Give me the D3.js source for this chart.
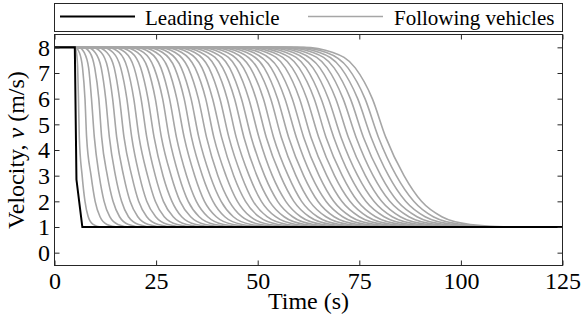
<!DOCTYPE html>
<html><head><meta charset="utf-8">
<script src="https://cdn.jsdelivr.net/npm/d3@7"></script>
<style>
html,body{margin:0;padding:0;background:#fff;}
</style></head>
<body><svg id="chart" width="582" height="322" style="display:block"></svg>
<script>
// ---------------- data ----------------
const simStart = 0, simEnd = 125;
const xTicks = [0, 25, 50, 75, 100, 125];
const yTicks = [0, 1, 2, 3, 4, 5, 6, 7, 8];
const legendLabels = ["Leading vehicle", "Following vehicles"];
const xLabel = "Time (s)";
const yLabelParts = ["Velocity, ", "v", " (m/s)"];

// leading vehicle profile
const leaderTime = [0, 5.0, 5.4, 6.85, 125];
const leaderVelocity = [8, 8, 2.85, 1, 1];

// following vehicles: time (s) at which each vehicle's velocity reaches each level
const velocityLevels = [8, 7.8, 7.2, 6, 4.5, 3, 2, 1.4, 1.1, 1];
const followerCrossTimes = [
  [5.05, 5.4, 5.7, 5.9, 6.1, 6.8, 7.5, 8.3, 9.5, 11.3],
  [5.1, 6.1, 6.9, 7.5, 7.9, 9.0, 10.0, 11.2, 12.9, 15.5],
  [6.0, 7.3, 8.4, 9.1, 9.8, 11.0, 12.2, 13.6, 15.6, 18.7],
  [7.0, 8.7, 9.9, 10.9, 11.6, 13.0, 14.4, 16.0, 18.2, 21.7],
  [8.1, 10.0, 11.5, 12.6, 13.5, 15.0, 16.5, 18.2, 20.7, 24.5],
  [9.3, 11.5, 13.1, 14.3, 15.3, 17.0, 18.6, 20.5, 23.1, 27.3],
  [10.5, 12.9, 14.7, 16.0, 17.1, 19.0, 20.7, 22.7, 25.5, 30.0],
  [11.8, 14.4, 16.3, 17.8, 19.0, 20.9, 22.7, 24.9, 27.9, 32.6],
  [13.1, 15.9, 17.9, 19.5, 20.8, 22.9, 24.8, 27.0, 30.2, 35.2],
  [14.4, 17.4, 19.6, 21.3, 22.7, 24.8, 26.8, 29.2, 32.5, 37.8],
  [15.7, 18.9, 21.2, 23.0, 24.5, 26.7, 28.9, 31.3, 34.8, 40.4],
  [17.1, 20.4, 22.9, 24.8, 26.3, 28.7, 30.9, 33.5, 37.1, 42.9],
  [18.4, 21.9, 24.5, 26.6, 28.2, 30.6, 32.9, 35.6, 39.4, 45.4],
  [19.8, 23.5, 26.2, 28.3, 30.0, 32.5, 34.9, 37.7, 41.6, 47.9],
  [21.2, 25.0, 27.9, 30.1, 31.9, 34.5, 36.9, 39.8, 43.9, 50.3],
  [22.6, 26.6, 29.6, 31.9, 33.7, 36.4, 39.0, 41.9, 46.1, 52.8],
  [24.0, 28.1, 31.2, 33.6, 35.5, 38.3, 41.0, 44.0, 48.3, 55.2],
  [25.4, 29.7, 32.9, 35.4, 37.4, 40.2, 43.0, 46.1, 50.6, 57.6],
  [26.9, 31.3, 34.6, 37.2, 39.2, 42.2, 45.0, 48.2, 52.8, 60.0],
  [28.3, 32.9, 36.3, 38.9, 41.1, 44.1, 47.0, 50.3, 55.0, 62.4],
  [29.7, 34.5, 38.0, 40.7, 42.9, 46.0, 48.9, 52.3, 57.2, 64.8],
  [31.2, 36.0, 39.7, 42.5, 44.7, 47.9, 50.9, 54.4, 59.4, 67.2],
  [32.6, 37.6, 41.4, 44.3, 46.6, 49.8, 52.9, 56.5, 61.6, 69.6],
  [34.1, 39.2, 43.1, 46.0, 48.4, 51.7, 54.9, 58.6, 63.7, 71.9],
  [35.6, 40.8, 44.8, 47.8, 50.3, 53.6, 56.9, 60.6, 65.9, 74.3],
  [37.0, 42.5, 46.5, 49.6, 52.1, 55.6, 58.9, 62.7, 68.1, 76.6],
  [38.5, 44.1, 48.2, 51.4, 53.9, 57.5, 60.8, 64.7, 70.2, 79.0],
  [40.0, 45.7, 49.9, 53.2, 55.8, 59.4, 62.8, 66.8, 72.4, 81.3],
  [41.5, 47.3, 51.6, 54.9, 57.6, 61.3, 64.8, 68.8, 74.6, 83.6],
  [43.0, 48.9, 53.3, 56.7, 59.5, 63.2, 66.8, 70.9, 76.7, 85.9],
  [44.5, 50.5, 55.0, 58.5, 61.3, 65.1, 68.7, 72.9, 78.9, 88.3],
  [46.0, 52.2, 56.8, 60.3, 63.1, 67.0, 70.7, 75.0, 81.0, 90.6],
  [47.5, 53.8, 58.5, 62.1, 65.0, 68.9, 72.7, 77.0, 83.1, 92.9],
  [49.0, 55.4, 60.2, 63.9, 66.8, 70.8, 74.6, 79.0, 85.3, 95.2],
  [50.5, 57.0, 61.9, 65.6, 68.7, 72.7, 76.6, 81.1, 87.4, 97.5],
  [52.0, 58.7, 63.6, 67.4, 70.5, 74.6, 78.6, 83.1, 89.6, 99.7],
  [53.6, 60.3, 65.3, 69.2, 72.3, 76.5, 80.5, 85.1, 91.7, 102.0],
  [55.1, 61.9, 67.1, 71.0, 74.2, 78.4, 82.5, 87.2, 93.8, 104.3],
  [56.6, 63.6, 68.8, 72.8, 76.0, 80.3, 84.4, 89.2, 95.9, 106.6],
  [58.1, 65.2, 70.5, 74.6, 77.9, 82.2, 86.4, 91.2, 98.1, 108.9],
  [59.7, 66.9, 72.2, 76.4, 79.7, 84.1, 88.4, 93.2, 100.2, 111.1],
  [61.2, 68.5, 74.0, 78.2, 81.5, 86.0, 90.3, 95.3, 102.3, 113.4]
];

// ---------------- drawing ----------------
const svg = d3.select("#chart");
const axisColor = "#262626";
const followerColor = "#a6a6a6";
const FONT = "Liberation Serif";
const plot = {left: 54.5, right: 562.5, top: 34.5, bottom: 265.5};

const x = d3.scaleLinear().domain([simStart, simEnd]).range([plot.left, plot.right]);
const y = d3.scaleLinear().domain([-0.5, 8.5]).range([plot.bottom, plot.top]);

svg.append("defs").append("clipPath").attr("id", "clip")
  .append("rect").attr("x", plot.left).attr("y", plot.top)
  .attr("width", plot.right - plot.left).attr("height", plot.bottom - plot.top);

const line = d3.line().x(d => x(d[0])).y(d => y(d[1])).curve(d3.curveMonotoneX);
const lineLinear = d3.line().x(d => x(d[0])).y(d => y(d[1]));

const dataG = svg.append("g").attr("clip-path", "url(#clip)");

followerCrossTimes.forEach(times => {
  const pts = [[simStart, velocityLevels[0]]];
  times.forEach((t, i) => pts.push([t, velocityLevels[i]]));
  pts.push([simEnd, velocityLevels[velocityLevels.length - 1]]);
  dataG.append("path").attr("d", line(pts))
    .attr("fill", "none").attr("stroke", followerColor).attr("stroke-width", 1.6);
});

dataG.append("path")
  .attr("d", lineLinear(leaderTime.map((t, i) => [t, leaderVelocity[i]])))
  .attr("fill", "none").attr("stroke", "#000").attr("stroke-width", 2);

// axes (ticks point inward)
function styleAxis(g) {
  g.attr("font-family", FONT).attr("font-size", 24);
  g.select(".domain").remove();
  g.selectAll(".tick line").attr("stroke", axisColor);
  g.selectAll("text").attr("font-family", FONT).attr("font-size", 24).attr("fill", "#000");
}
svg.append("g").attr("transform", `translate(0,${plot.bottom})`)
  .call(d3.axisBottom(x).tickValues(xTicks).tickSize(-5).tickPadding(6.5).tickFormat(d3.format("d")))
  .call(styleAxis);
svg.append("g").attr("transform", `translate(0,${plot.top})`)
  .call(d3.axisTop(x).tickValues(xTicks).tickSize(-5).tickFormat(""))
  .call(styleAxis);
svg.append("g").attr("transform", `translate(${plot.left},0)`)
  .call(d3.axisLeft(y).tickValues(yTicks).tickSize(-5).tickPadding(4.5).tickFormat(d3.format("d")))
  .call(styleAxis);
svg.append("g").attr("transform", `translate(${plot.right},0)`)
  .call(d3.axisRight(y).tickValues(yTicks).tickSize(-5).tickFormat(""))
  .call(styleAxis);

svg.append("rect").attr("x", plot.left).attr("y", plot.top)
  .attr("width", plot.right - plot.left).attr("height", plot.bottom - plot.top)
  .attr("fill", "none").attr("stroke", axisColor).attr("stroke-width", 1);

// axis labels
svg.append("text").attr("x", (plot.left + plot.right) / 2).attr("y", 309)
  .attr("text-anchor", "middle").attr("font-family", FONT).attr("font-size", 24).text(xLabel);
const yl = svg.append("text").attr("transform", `translate(24,${(plot.top + plot.bottom) / 2}) rotate(-90)`)
  .attr("text-anchor", "middle").attr("font-family", FONT).attr("font-size", 24);
yl.append("tspan").text(yLabelParts[0]);
yl.append("tspan").attr("font-style", "italic").text(yLabelParts[1]);
yl.append("tspan").text(yLabelParts[2]);

// legend
const lg = svg.append("g");
lg.append("rect").attr("x", plot.left).attr("y", 3.5).attr("width", plot.right - plot.left).attr("height", 28)
  .attr("fill", "#fff").attr("stroke", axisColor).attr("stroke-width", 1);
const legendItems = [
  {label: legendLabels[0], color: "#000", w: 2, x0: 60, x1: 135, tx: 145},
  {label: legendLabels[1], color: followerColor, w: 1.6, x0: 308, x1: 383, tx: 394}
];
legendItems.forEach(it => {
  lg.append("line").attr("x1", it.x0).attr("x2", it.x1).attr("y1", 16.5).attr("y2", 16.5)
    .attr("stroke", it.color).attr("stroke-width", it.w);
  lg.append("text").attr("x", it.tx).attr("y", 25).attr("font-family", FONT).attr("font-size", 21).text(it.label);
});
</script></body></html>
